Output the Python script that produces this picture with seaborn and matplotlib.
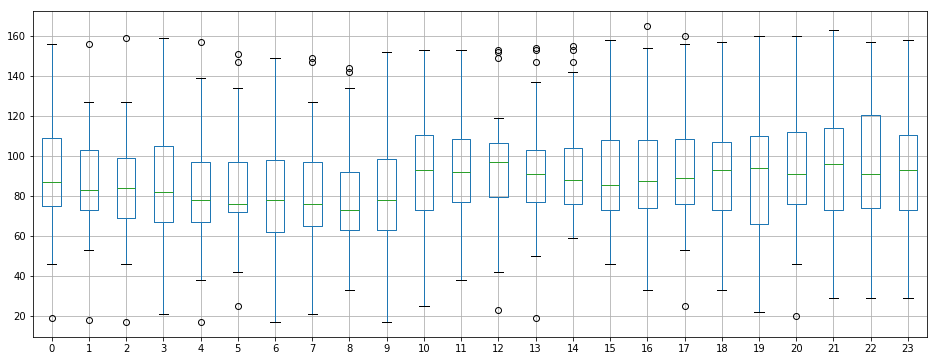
import numpy as np
import pandas as pd
import matplotlib
matplotlib.use("Agg")
import matplotlib.pyplot as plt
import seaborn as sns

# ---- values (per category 0..23) ----
categories = [str(i) for i in range(24)]
whis_low = [46, 53, 46, 21, 38, 42, 17, 21, 33, 17, 25, 38,
            42, 50, 59, 46, 33, 53, 33, 22, 46, 29, 29, 29]
q1 = [75, 73.3, 69, 67, 67.3, 72, 62.3, 65.3, 63, 63, 73.3, 77.3,
      79.5, 77.3, 76, 73.3, 74, 76, 73, 66, 76, 73.3, 74.3, 73.3]
median = [87, 83, 84, 82, 78, 76, 78, 76, 73, 78, 93, 92,
          97, 91, 88, 85.5, 87.5, 89, 93, 94, 91, 96, 91, 93]
q3 = [109, 103, 99, 105, 97.3, 97.3, 98.3, 97.3, 92, 98.8, 110.3, 108.3,
      106.5, 102.8, 103.8, 107.8, 107.8, 108.3, 106.8, 109.8, 111.8, 113.8, 120.3, 110.3]
whis_high = [156, 127, 127, 159, 139, 134, 149, 127, 134, 152, 153, 153,
             119, 137, 142, 158, 154, 156, 157, 160, 160, 163, 157, 158]
fliers_low = [[19], [18], [17], [], [17], [25], [], [], [], [], [], [],
              [23], [19], [], [], [], [25], [], [], [20], [], [], []]
fliers_high = [[], [156], [159], [], [157], [151, 147], [], [149, 147], [144, 142], [], [], [],
               [153, 152, 149], [154, 153, 147], [155, 153, 147], [], [165], [160], [], [], [], [], [], []]


def sample_from_summary(lo_f, wlo, a, med, b, whi, hi_f, m=4):
    """Build a (4m+1)-point sample whose box statistics equal the summary."""
    low = sorted(lo_f) + [wlo]
    high = [whi] + sorted(hi_f)
    s = low + [a] * (m + 1 - len(low))     # indices 0..m   (q1 at m)
    s += [med] * m                         # indices m+1..2m (median at 2m)
    s += [b] * m                           # indices 2m+1..3m (q3 at 3m)
    s += [b] * (m - len(high)) + high      # indices 3m+1..4m
    return s


rows = []
for i, c in enumerate(categories):
    vals = sample_from_summary(fliers_low[i], whis_low[i], q1[i], median[i],
                               q3[i], whis_high[i], fliers_high[i])
    rows += [(c, v) for v in vals]
df = pd.DataFrame(rows, columns=["hour", "value"])

W, H = 936, 361
fig = plt.figure(figsize=(W / 72, H / 72), dpi=72)
ax = fig.add_axes([33 / W, 1 - 337.3 / H, (926.5 - 33) / W, (337.3 - 11) / H])

sns.boxplot(data=df, x="hour", y="value", order=categories, ax=ax,
            fill=False, linecolor="#1f77b4", linewidth=1, width=0.5,
            whis=1.5, fliersize=6, capwidths=0.25,
            medianprops=dict(color="#2ca02c", linewidth=1),
            capprops=dict(color="black", linewidth=1),
            whiskerprops=dict(color="#1f77b4", linewidth=1),
            boxprops=dict(color="#1f77b4", linewidth=1),
            flierprops=dict(marker="o", markerfacecolor="none",
                            markeredgecolor="black", markersize=6))

ax.set_axisbelow(True)
ax.grid(True, color="#b0b0b0", linewidth=0.8)
ax.set_xlabel("")
ax.set_ylabel("")
ax.set_yticks([20, 40, 60, 80, 100, 120, 140, 160])
ax.tick_params(labelsize=10)
for sp in ax.spines.values():
    sp.set_visible(True)
    sp.set_color("black")
    sp.set_linewidth(0.8)

fig.savefig("out.png", dpi=72)
